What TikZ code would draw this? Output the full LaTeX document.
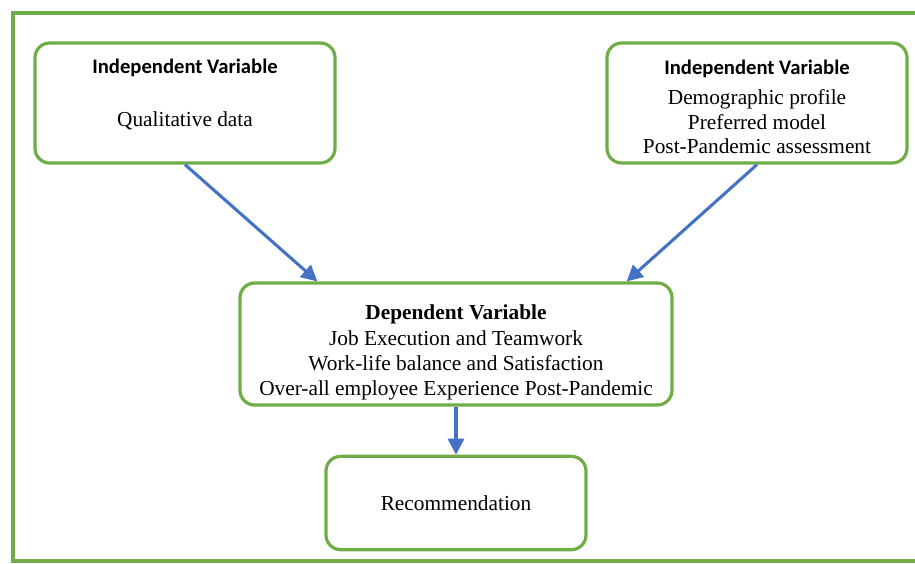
\documentclass[tikz,border=0pt]{standalone}
\usepackage{fontspec}
\usepackage{xcolor}
\usepackage{tikz}
\usetikzlibrary{arrows.meta, positioning, calc}
\setmainfont{Liberation Serif}
\newfontfamily\headfont{Carlito}
\definecolor{frameGreen}{HTML}{70AD47}
\definecolor{arrowBlue}{HTML}{4472C4}

\begin{document}
\begin{tikzpicture}[
    x=0.75pt, y=-0.75pt,
    varbox/.style={
        draw=frameGreen, line width=2.4pt, rounded corners=11pt, fill=white,
        align=center, font=\fontsize{16}{18.5}\selectfont, inner sep=0pt
    },
    flow/.style={-{Triangle[length=12pt, width=12pt]}, line width=2.3pt, arrowBlue}
]
    \clip (0,0) rectangle (915,564);
    \useasboundingbox (0,0) rectangle (915,564);
    \draw[frameGreen, line width=2.4pt] (13,13) rectangle (930,561);

    \node[varbox, minimum width=225pt, minimum height=90pt] (qual) at (185,103)
        {{\headfont\bfseries\fontsize{15.5}{18}\selectfont Independent Variable}\\[21pt]
         Qualitative data\rule[-15pt]{0pt}{15pt}};
    \node[varbox, minimum width=225pt, minimum height=90pt] (demo) at (757,103)
        {\rule{0pt}{17pt}{\headfont\bfseries\fontsize{15.5}{18}\selectfont Independent Variable}\\[4pt]
         Demographic profile\\ Preferred model\\ Post-Pandemic assessment};
    \node[varbox, minimum width=324pt, minimum height=91.5pt] (dep) at (456,344)
        {\rule{0pt}{23pt}\textbf{Dependent Variable}\\[1.5pt] Job Execution and Teamwork\\
         Work-life balance and Satisfaction\\
         Over-all employee Experience Post-Pandemic};
    \node[varbox, minimum width=195pt, minimum height=70pt] (rec) at (456,503)
        {Recommendation};

    \draw[flow] (qual.south) -- ([xshift=-104pt]dep.north);
    \draw[flow] (demo.south) -- ([xshift=128pt]dep.north);
    \draw[flow] (dep.south) -- (rec.north);
\end{tikzpicture}
\end{document}
